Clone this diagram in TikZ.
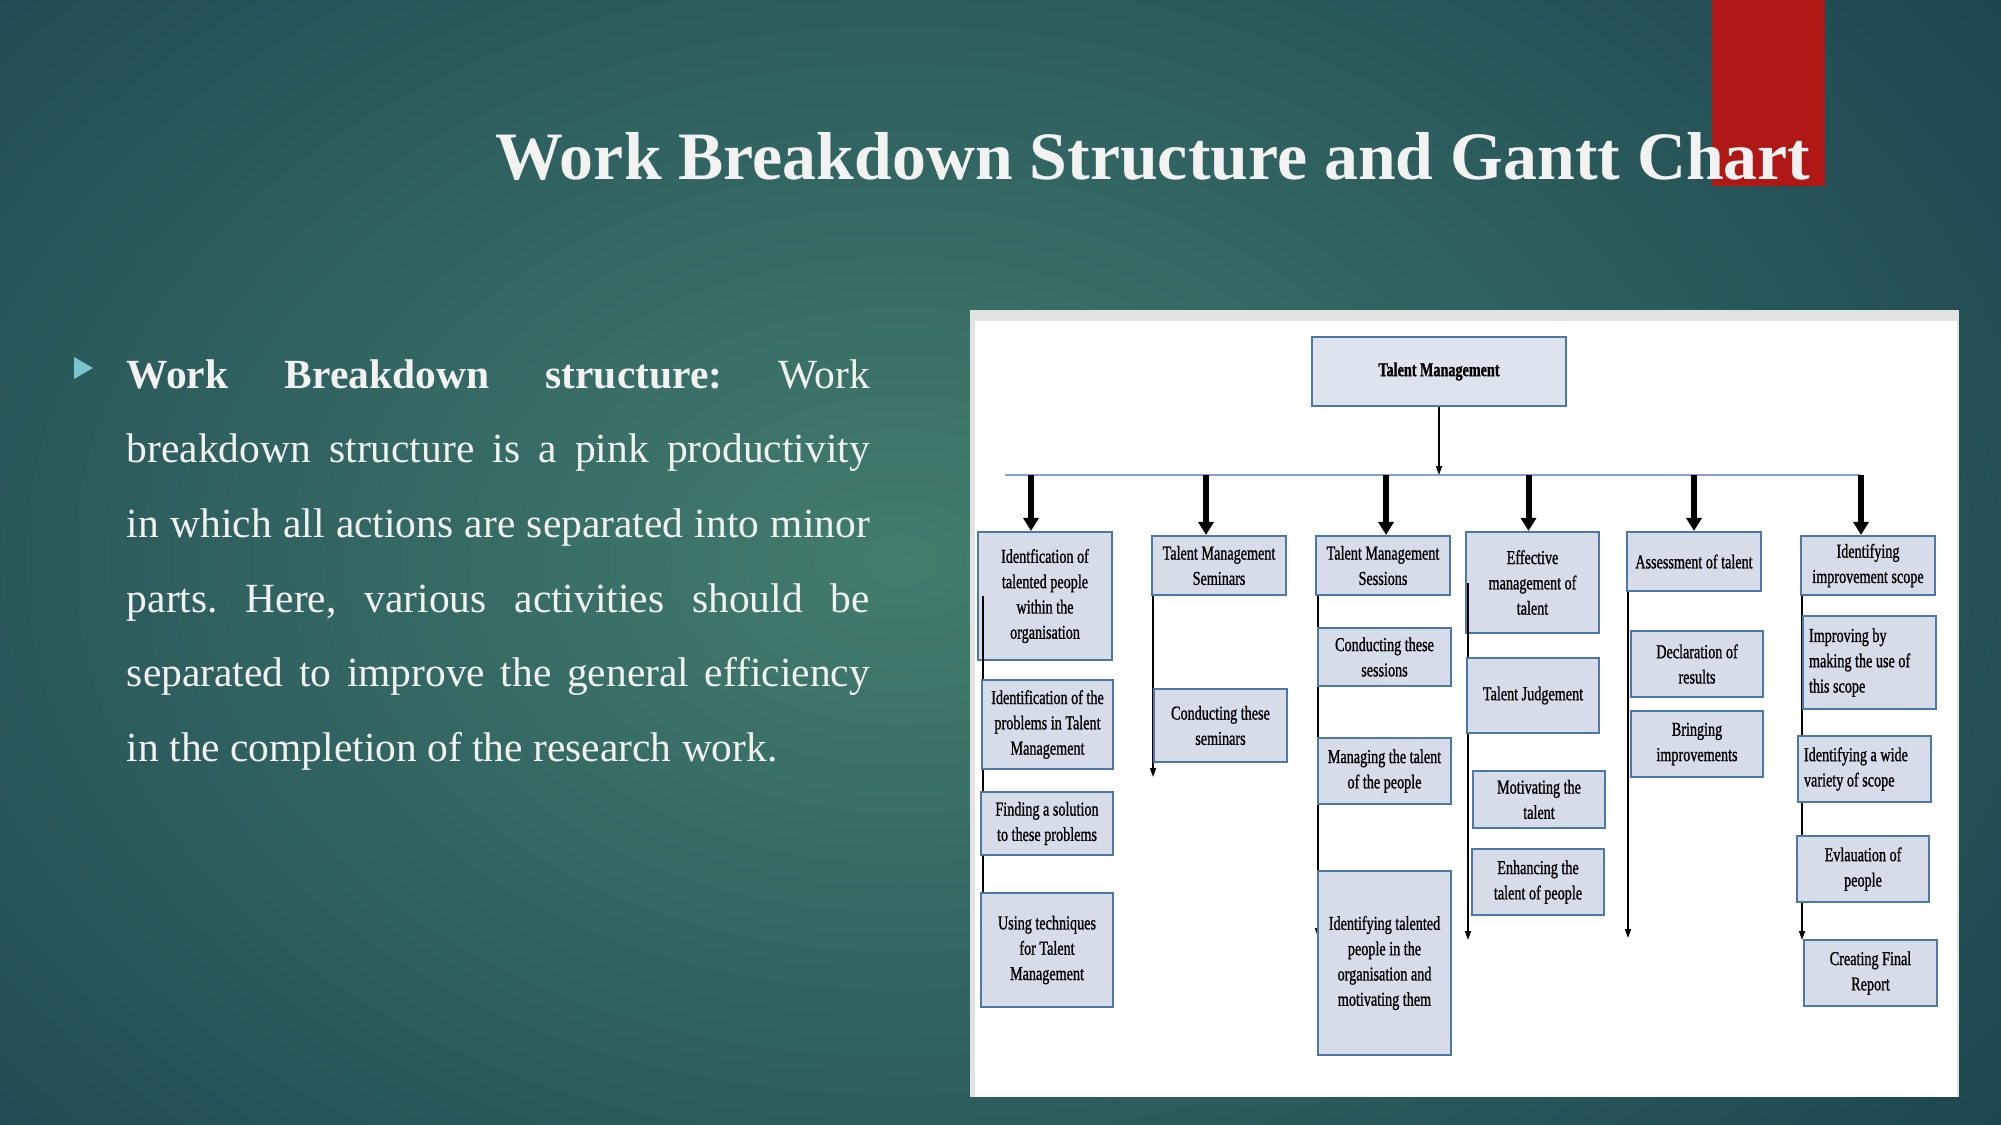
\documentclass[tikz,border=0pt]{standalone}
\usepackage{fontspec}
\setmainfont{Liberation Serif}
\newfontfamily\boxfont[FakeStretch=0.72,FakeBold=1]{Liberation Serif}
\usetikzlibrary{arrows.meta}
\definecolor{bgdark}{HTML}{143848}
\definecolor{bglight}{HTML}{427D6E}
\definecolor{slidered}{HTML}{B01815}
\definecolor{slidetext}{HTML}{F2F2F2}
\definecolor{bulletc}{HTML}{7CC4CB}
\definecolor{panelgray}{HTML}{E2E2E2}
\definecolor{wbsfill}{HTML}{D6DDE8}
\definecolor{wbsedge}{HTML}{4C78A8}
\definecolor{busblue}{HTML}{7FA3CE}
\hyphenpenalty=10000
\tolerance=10000
\frenchspacing
\begin{document}
\begin{tikzpicture}[x=0.1mm,y=-0.1mm,line width=0.5pt,
  slidetitle/.style={font=\fontsize{19.3}{23}\selectfont\bfseries,text=slidetext,inner sep=0pt},
  bodytext/.style={text width=74.3mm,align=justify,inner sep=0pt,text=slidetext,
    font=\fontsize{11.8}{21.26}\selectfont},
  wbs/.style={draw=wbsedge,fill=wbsfill,line width=0.6pt,align=center,inner xsep=0.4mm,inner ysep=0.3mm,
    font=\boxfont\fontsize{5.6}{7.2}\selectfont},
  busline/.style={draw=busblue,line width=0.8pt},
  drop/.style={line width=1.7pt,-{Triangle[length=1.3mm,width=1.5mm]}},
  leg/.style={line width=0.45pt,-{Triangle[length=0.9mm,width=0.6mm]}}]
  \useasboundingbox (0,0) rectangle (2001,1125);
  % slide background
  \begin{scope}
    \clip (0,0) rectangle (2001,1125);
    \fill[bgdark] (0,0) rectangle (2001,1125);
    \shade[inner color=bglight,outer color=bgdark] (900,560) ellipse [x radius=170mm,y radius=120mm];
  \end{scope}
  \fill[slidered] (1712,0) rectangle (1825,186);
  \node[slidetitle,anchor=base west] (ttl) at (495,180) {Work Breakdown Structure and Gantt Chart};
  \fill[bulletc] (74,357) -- (74,379) -- (93,368) -- cycle;
  \node[bodytext,anchor=base west] (txt) at (126,388) {\textbf{Work Breakdown structure:} Work\linebreak
    breakdown structure is a pink productivity\linebreak
    in which all actions are separated into minor\linebreak
    parts. Here, various activities should be\linebreak
    separated to improve the general efficiency\linebreak
    in the completion of the research work.};
  % picture panel
  \fill[panelgray] (970,310) rectangle (1959,1097);
  \fill[white] (975,321) rectangle (1957,1097);
  % top and first level
  \node[wbs,fill=wbsfill!80!white,font=\boxfont\fontsize{5.6}{7.2}\selectfont\bfseries,
    minimum width=25.4mm,minimum height=6.9mm] (tm) at (1439,371.5) {Talent Management};
  \coordinate (busL) at (1005,475);
  \coordinate (busR) at (1860,475);
  \draw[busline] (busL) -- (busR);
  \draw[leg] (tm.south) -- (tm.south |- busL);
  \node[wbs,minimum width=13.4mm,minimum height=12.8mm] (c1) at (1045,596) {Identfication of\\talented people\\within the\\organisation};
  \node[wbs,minimum width=13.4mm,minimum height=5.9mm] (c2) at (1219,565.5) {Talent Management\\Seminars};
  \node[wbs,minimum width=13.4mm,minimum height=5.9mm] (c3) at (1383,565.5) {Talent Management\\Sessions};
  \node[wbs,minimum width=13.3mm,minimum height=10.1mm] (c4) at (1532.5,582.5) {Effective\\management of\\talent};
  \node[wbs,minimum width=13.4mm,minimum height=5.9mm] (c5) at (1694,561.5) {Assessment of talent};
  \node[wbs,minimum width=13.4mm,minimum height=5.9mm] (c6) at (1868,565.5) {Identifying\\improvement scope};
  \draw[drop] ([xshift=-1.4mm]c1.north |- busL) -- ([xshift=-1.4mm]c1.north);
  \draw[drop] ([xshift=-1.3mm]c2.north |- busL) -- ([xshift=-1.3mm]c2.north);
  \draw[drop] ([xshift=0.3mm]c3.north |- busL) -- ([xshift=0.3mm]c3.north);
  \draw[drop] ([xshift=-0.4mm]c4.north |- busL) -- ([xshift=-0.4mm]c4.north);
  \draw[drop] (c5.north |- busL) -- (c5.north);
  \draw[drop] ([xshift=-0.7mm]c6.north |- busL) -- ([xshift=-0.7mm]c6.north);
  % legs
  \coordinate (e1) at (983,930);
  \coordinate (e2) at (1153,777);
  \coordinate (e3) at (1318,937);
  \coordinate (e4) at (1468,940);
  \coordinate (e5) at (1628,938);
  \coordinate (e6) at (1802,940);
  \draw[leg] (e1 |- c1.center) -- (e1);
  \draw[leg] (e2 |- c2.south) -- (e2);
  \draw[leg] (e3 |- c3.south) -- (e3);
  \draw[leg] (e4 |- c4.center) -- (e4);
  \draw[leg] (e5 |- c5.south) -- (e5);
  \draw[leg] (e6 |- c6.south) -- (e6);
  % second level
  \node[wbs,minimum width=13.1mm,minimum height=8.9mm] (c1a) at (1047.5,724.5) {Identification of the\\problems in Talent\\Management};
  \node[wbs,minimum width=13.2mm,minimum height=6.3mm] (c1b) at (1047,823.5) {Finding a solution\\to these problems};
  \node[wbs,minimum width=13.2mm,minimum height=11.4mm] (c1c) at (1047,950) {Using techniques\\for Talent\\Management};
  \node[wbs,minimum width=13.3mm,minimum height=7.3mm] (c2a) at (1220.5,725.5) {Conducting these\\seminars};
  \node[wbs,minimum width=13.3mm,minimum height=5.8mm] (c3a) at (1384.5,657) {Conducting these\\sessions};
  \node[wbs,minimum width=13.3mm,minimum height=6.6mm] (c3b) at (1384.5,771) {Managing the talent\\of the people};
  \node[wbs,minimum width=13.3mm,minimum height=18.4mm] (c3c) at (1384.5,963) {Identifying talented\\people in the\\organisation and\\motivating them};
  \node[wbs,minimum width=13.2mm,minimum height=7.5mm] (c4a) at (1533,695.5) {Talent Judgement};
  \node[wbs,minimum width=13.2mm,minimum height=5.7mm] (c4b) at (1539,799.5) {Motivating the\\talent};
  \node[wbs,minimum width=13.2mm,minimum height=6.6mm] (c4c) at (1538,882) {Enhancing the\\talent of people};
  \node[wbs,minimum width=13.2mm,minimum height=6.6mm] (c5a) at (1697,664) {Declaration of\\results};
  \node[wbs,minimum width=13.2mm,minimum height=6.6mm] (c5b) at (1697,744) {Bringing\\improvements};
  \node[wbs,align=flush left,text width=12.1mm,minimum width=13.3mm,minimum height=9.3mm] (c6a) at (1869.5,662.5) {Improving by\\making the use of\\this scope};
  \node[wbs,align=flush left,text width=12.1mm,minimum width=13.3mm,minimum height=6.6mm] (c6b) at (1864.5,769) {Identifying a wide\\variety of scope};
  \node[wbs,minimum width=13.2mm,minimum height=6.6mm] (c6c) at (1863,869) {Evlauation of\\people};
  \node[wbs,minimum width=13.3mm,minimum height=6.6mm] (c6d) at (1870.5,973) {Creating Final\\Report};
\end{tikzpicture}
\end{document}
